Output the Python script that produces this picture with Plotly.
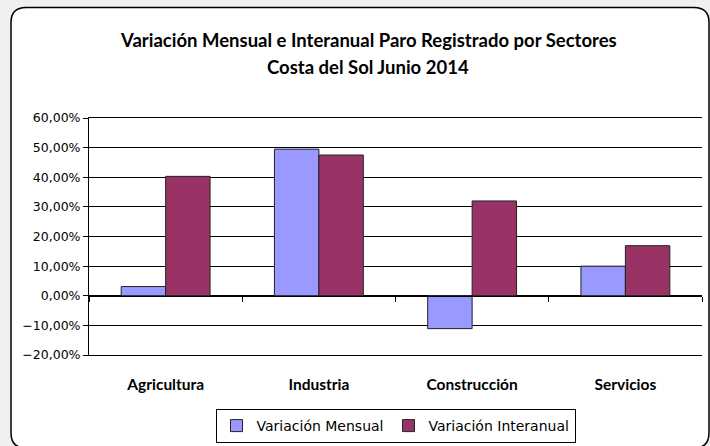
import plotly.graph_objects as go

categories = ["Agricultura", "Industria", "Construcción", "Servicios"]
mensual = [0.031, 0.495, -0.111, 0.100]
interanual = [0.403, 0.475, 0.320, 0.169]
series_names = ["Variación Mensual", "Variación Interanual"]
title_lines = ["Variación Mensual e Interanual Paro Registrado por Sectores",
               "Costa del Sol Junio 2014"]

W, H = 710, 446
ML, MR, MT, MB = 89, 8, 118, 91
PW, PH = W - ML - MR, H - MT - MB


def px(x):
    return (x - ML) / PW


def py(y):
    return (H - MB - y) / PH


# rounded frame around the chart area (decoration)
x0, y0, x1, y1, r = 11, 7.5, 709, 448, 15
frame = (
    f"M {px(x0 + r)},{py(y0)} L {px(x1 - r)},{py(y0)} "
    f"Q {px(x1)},{py(y0)} {px(x1)},{py(y0 + r)} "
    f"L {px(x1)},{py(y1 - r)} Q {px(x1)},{py(y1)} {px(x1 - r)},{py(y1)} "
    f"L {px(x0 + r)},{py(y1)} Q {px(x0)},{py(y1)} {px(x0)},{py(y1 - r)} "
    f"L {px(x0)},{py(y0 + r)} Q {px(x0)},{py(y0)} {px(x0 + r)},{py(y0)} Z"
)

fig = go.Figure()
fig.add_trace(go.Bar(x=categories, y=mensual, name=series_names[0],
                     marker=dict(color="#9999FF", line=dict(color="#222222", width=1))))
fig.add_trace(go.Bar(x=categories, y=interanual, name=series_names[1],
                     marker=dict(color="#993366", line=dict(color="#222222", width=1))))
# helper trace so the zero-crossing category axis is drawn
fig.add_trace(go.Scatter(x=categories, y=[None] * len(categories), xaxis="x2",
                         showlegend=False, hoverinfo="skip"))

title_font = dict(family="Lato", size=18.5, color="black")
fig.update_layout(
    width=W, height=H,
    margin=dict(l=ML, r=MR, t=MT, b=MB, pad=0, autoexpand=False),
    paper_bgcolor="#f0f0f0",
    plot_bgcolor="rgba(0,0,0,0)",
    separators=",.",
    barmode="group",
    bargap=0.42,
    bargroupgap=0,
    shapes=[dict(type="path", xref="paper", yref="paper", path=frame,
                 fillcolor="white", line=dict(color="black", width=1.5), layer="below")],
    annotations=[
        dict(text=f"<b>{title_lines[0]}</b>", xref="paper", yref="paper",
             x=px(368), y=py(40), xanchor="center", yanchor="middle", showarrow=False,
             font=title_font),
        dict(text=f"<b>{title_lines[1]}</b>", xref="paper", yref="paper",
             x=px(368), y=py(67), xanchor="center", yanchor="middle", showarrow=False,
             font=title_font),
    ],
    xaxis=dict(type="category", categoryarray=categories, showline=True, mirror=True,
               linecolor="black", linewidth=1, ticks="", showgrid=False,
               ticklabelstandoff=15,
               tickfont=dict(family="Lato", size=15.5, color="black", weight="bold")),
    xaxis2=dict(type="category", categoryarray=categories, overlaying="x", matches="x",
                anchor="free", position=0.25, showline=True, linecolor="black",
                linewidth=1, ticks="outside", ticklen=5, tickcolor="black",
                tickson="boundaries", showticklabels=False, showgrid=False),
    yaxis=dict(range=[-0.2, 0.6], dtick=0.1, tickformat=".2%", showgrid=True,
               gridcolor="black", gridwidth=1, zeroline=False, showline=True,
               linecolor="black", linewidth=1, ticks="outside", ticklen=5,
               tickcolor="black",
               tickfont=dict(family="DejaVu Sans", size=12.5, color="black")),
    legend=dict(orientation="h", x=0.5, xanchor="center", y=py(409), yanchor="top",
                bordercolor="black", borderwidth=1, bgcolor="white",
                font=dict(family="DejaVu Sans", size=14, color="black"),
                itemwidth=30, tracegroupgap=0),
)

fig.write_html("out.html", config={"displayModeBar": False},
               post_script="document.body.style.margin='0';")
